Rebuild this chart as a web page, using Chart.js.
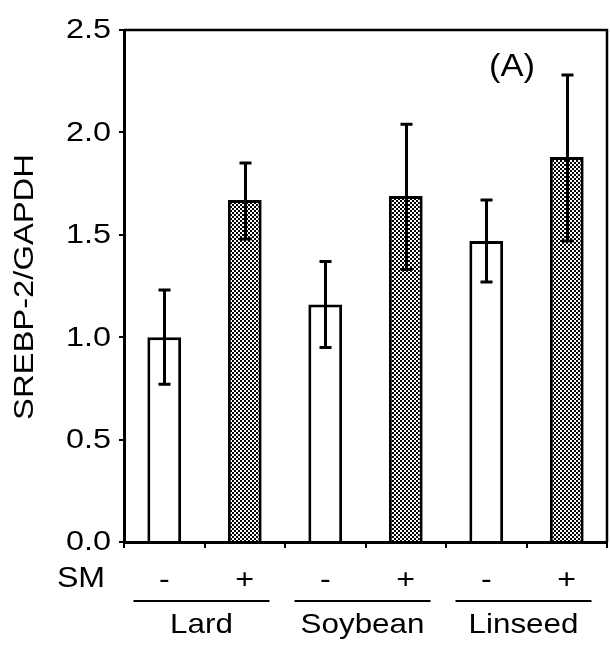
<!DOCTYPE html>
<html>
<head>
<meta charset="utf-8">
<script src="https://cdn.jsdelivr.net/npm/chart.js@4/dist/chart.umd.min.js"></script>
<style>
html,body{margin:0;padding:0;background:#fff;}
#wrap{width:610px;height:645px;position:relative;}
</style>
</head>
<body>
<div id="wrap"><canvas id="c" width="610" height="645"></canvas></div>
<script>
// ---- data ----
const smLabels = ['-', '+', '-', '+', '-', '+'];
const groups = ['Lard', 'Soybean', 'Linseed'];
const means = [1.00, 1.67, 1.16, 1.69, 1.47, 1.88];
const errLow = [0.77, 1.48, 0.95, 1.33, 1.27, 1.47];
const errHigh = [1.23, 1.85, 1.37, 2.04, 1.67, 2.28];
const yTicks = [0, 0.5, 1.0, 1.5, 2.0, 2.5];
const yTitle = 'SREBP-2/GAPDH';
const panelLabel = '(A)';

const FONT = '"Liberation Sans", Arial, sans-serif';

// checker pattern
function makePattern() {
  const pc = document.createElement('canvas');
  pc.width = 4; pc.height = 4;
  const g = pc.getContext('2d');
  g.fillStyle = '#fff'; g.fillRect(0, 0, 4, 4);
  g.fillStyle = '#000';
  g.fillRect(0, 0, 2, 2); g.fillRect(2, 2, 2, 2);
  return document.getElementById('c').getContext('2d').createPattern(pc, 'repeat');
}
const pat = makePattern();
const fills = smLabels.map(s => s === '+' ? pat : '#ffffff');

// text drawn with horizontal stretch (reference glyphs are wide)
function wideText(ctx, text, x, y, size, align, sx, rot) {
  ctx.save();
  ctx.translate(x, y);
  if (rot) ctx.rotate(rot);
  ctx.scale(sx, 1);
  ctx.font = size + 'px ' + FONT;
  ctx.fillStyle = '#000';
  ctx.textAlign = align;
  ctx.textBaseline = 'middle';
  ctx.fillText(text, 0, 0);
  ctx.restore();
}

const extras = {
  id: 'extras',
  afterDatasetsDraw(chart) {
    const ctx = chart.ctx;
    const x = chart.scales.x, y = chart.scales.y;
    const a = chart.chartArea;
    ctx.save();
    // error bars
    ctx.strokeStyle = '#000';
    ctx.lineWidth = 3;
    means.forEach((m, i) => {
      const cx = Math.round(x.getPixelForValue(i)) + 0.5;
      const yl = y.getPixelForValue(errLow[i]);
      const yh = y.getPixelForValue(errHigh[i]);
      ctx.beginPath();
      ctx.moveTo(cx, yl); ctx.lineTo(cx, yh);
      ctx.moveTo(cx - 6, yh); ctx.lineTo(cx + 6, yh);
      ctx.moveTo(cx - 6, yl); ctx.lineTo(cx + 6, yl);
      ctx.stroke();
    });
    // top and right frame
    ctx.lineWidth = 2.5;
    ctx.beginPath();
    ctx.moveTo(a.left, a.top); ctx.lineTo(a.right, a.top); ctx.lineTo(a.right, a.bottom);
    ctx.stroke();
    ctx.restore();

    // y tick labels from the y scale
    y.ticks.forEach(t => {
      wideText(ctx, Number(t.value).toFixed(1), a.left - 13, y.getPixelForValue(t.value) + 1, 27, 'right', 1.2);
    });
    // x tick labels (SM - / +) from the x scale
    chart.data.labels.forEach((l, i) => {
      wideText(ctx, l, x.getPixelForValue(i), 580, 28, 'center', 1.15);
    });
    wideText(ctx, 'SM', 81, 579, 30, 'center', 1.07);
    // panel label
    wideText(ctx, panelLabel, x.getPixelForValue(4.32), y.getPixelForValue(2.32), 32, 'center', 1.08);
    // group lines and labels
    ctx.save();
    ctx.strokeStyle = '#000';
    ctx.lineWidth = 2;
    groups.forEach((g, k) => {
      const c = (x.getPixelForValue(2 * k) + x.getPixelForValue(2 * k + 1)) / 2 - 3;
      ctx.beginPath();
      ctx.moveTo(c - 68, 601); ctx.lineTo(c + 68, 601);
      ctx.stroke();
      wideText(ctx, g, c, 625, 28, 'center', 1.12);
    });
    ctx.restore();
    // y title
    wideText(ctx, yTitle, 25, 287, 28, 'center', 1.17, -Math.PI / 2);
  }
};

new Chart(document.getElementById('c'), {
  type: 'bar',
  data: {
    labels: smLabels,
    datasets: [{
      data: means,
      backgroundColor: fills,
      borderColor: '#000',
      borderWidth: 3,
      borderSkipped: 'bottom',
      barPercentage: 0.42,
      categoryPercentage: 1.0
    }]
  },
  options: {
    responsive: false,
    animation: false,
    devicePixelRatio: 1,
    layout: { padding: { left: 0, right: 3, top: 30, bottom: 0 } },
    plugins: { legend: { display: false }, tooltip: { enabled: false } },
    scales: {
      x: {
        offset: true,
        grid: { offset: true, drawOnChartArea: false, tickLength: 6, color: '#000', lineWidth: 2 },
        border: { display: true, color: '#000', width: 3 },
        ticks: { display: false },
        afterFit(s) { s.height = 103; }
      },
      y: {
        min: 0, max: 2.5,
        afterBuildTicks(s) { s.ticks = yTicks.map(v => ({ value: v })); },
        grid: { drawOnChartArea: false, tickLength: 5, color: '#000', lineWidth: 2 },
        border: { display: true, color: '#000', width: 3 },
        ticks: { display: false },
        afterFit(s) { s.width = 124; }
      }
    }
  },
  plugins: [extras]
});
</script>
</body>
</html>
